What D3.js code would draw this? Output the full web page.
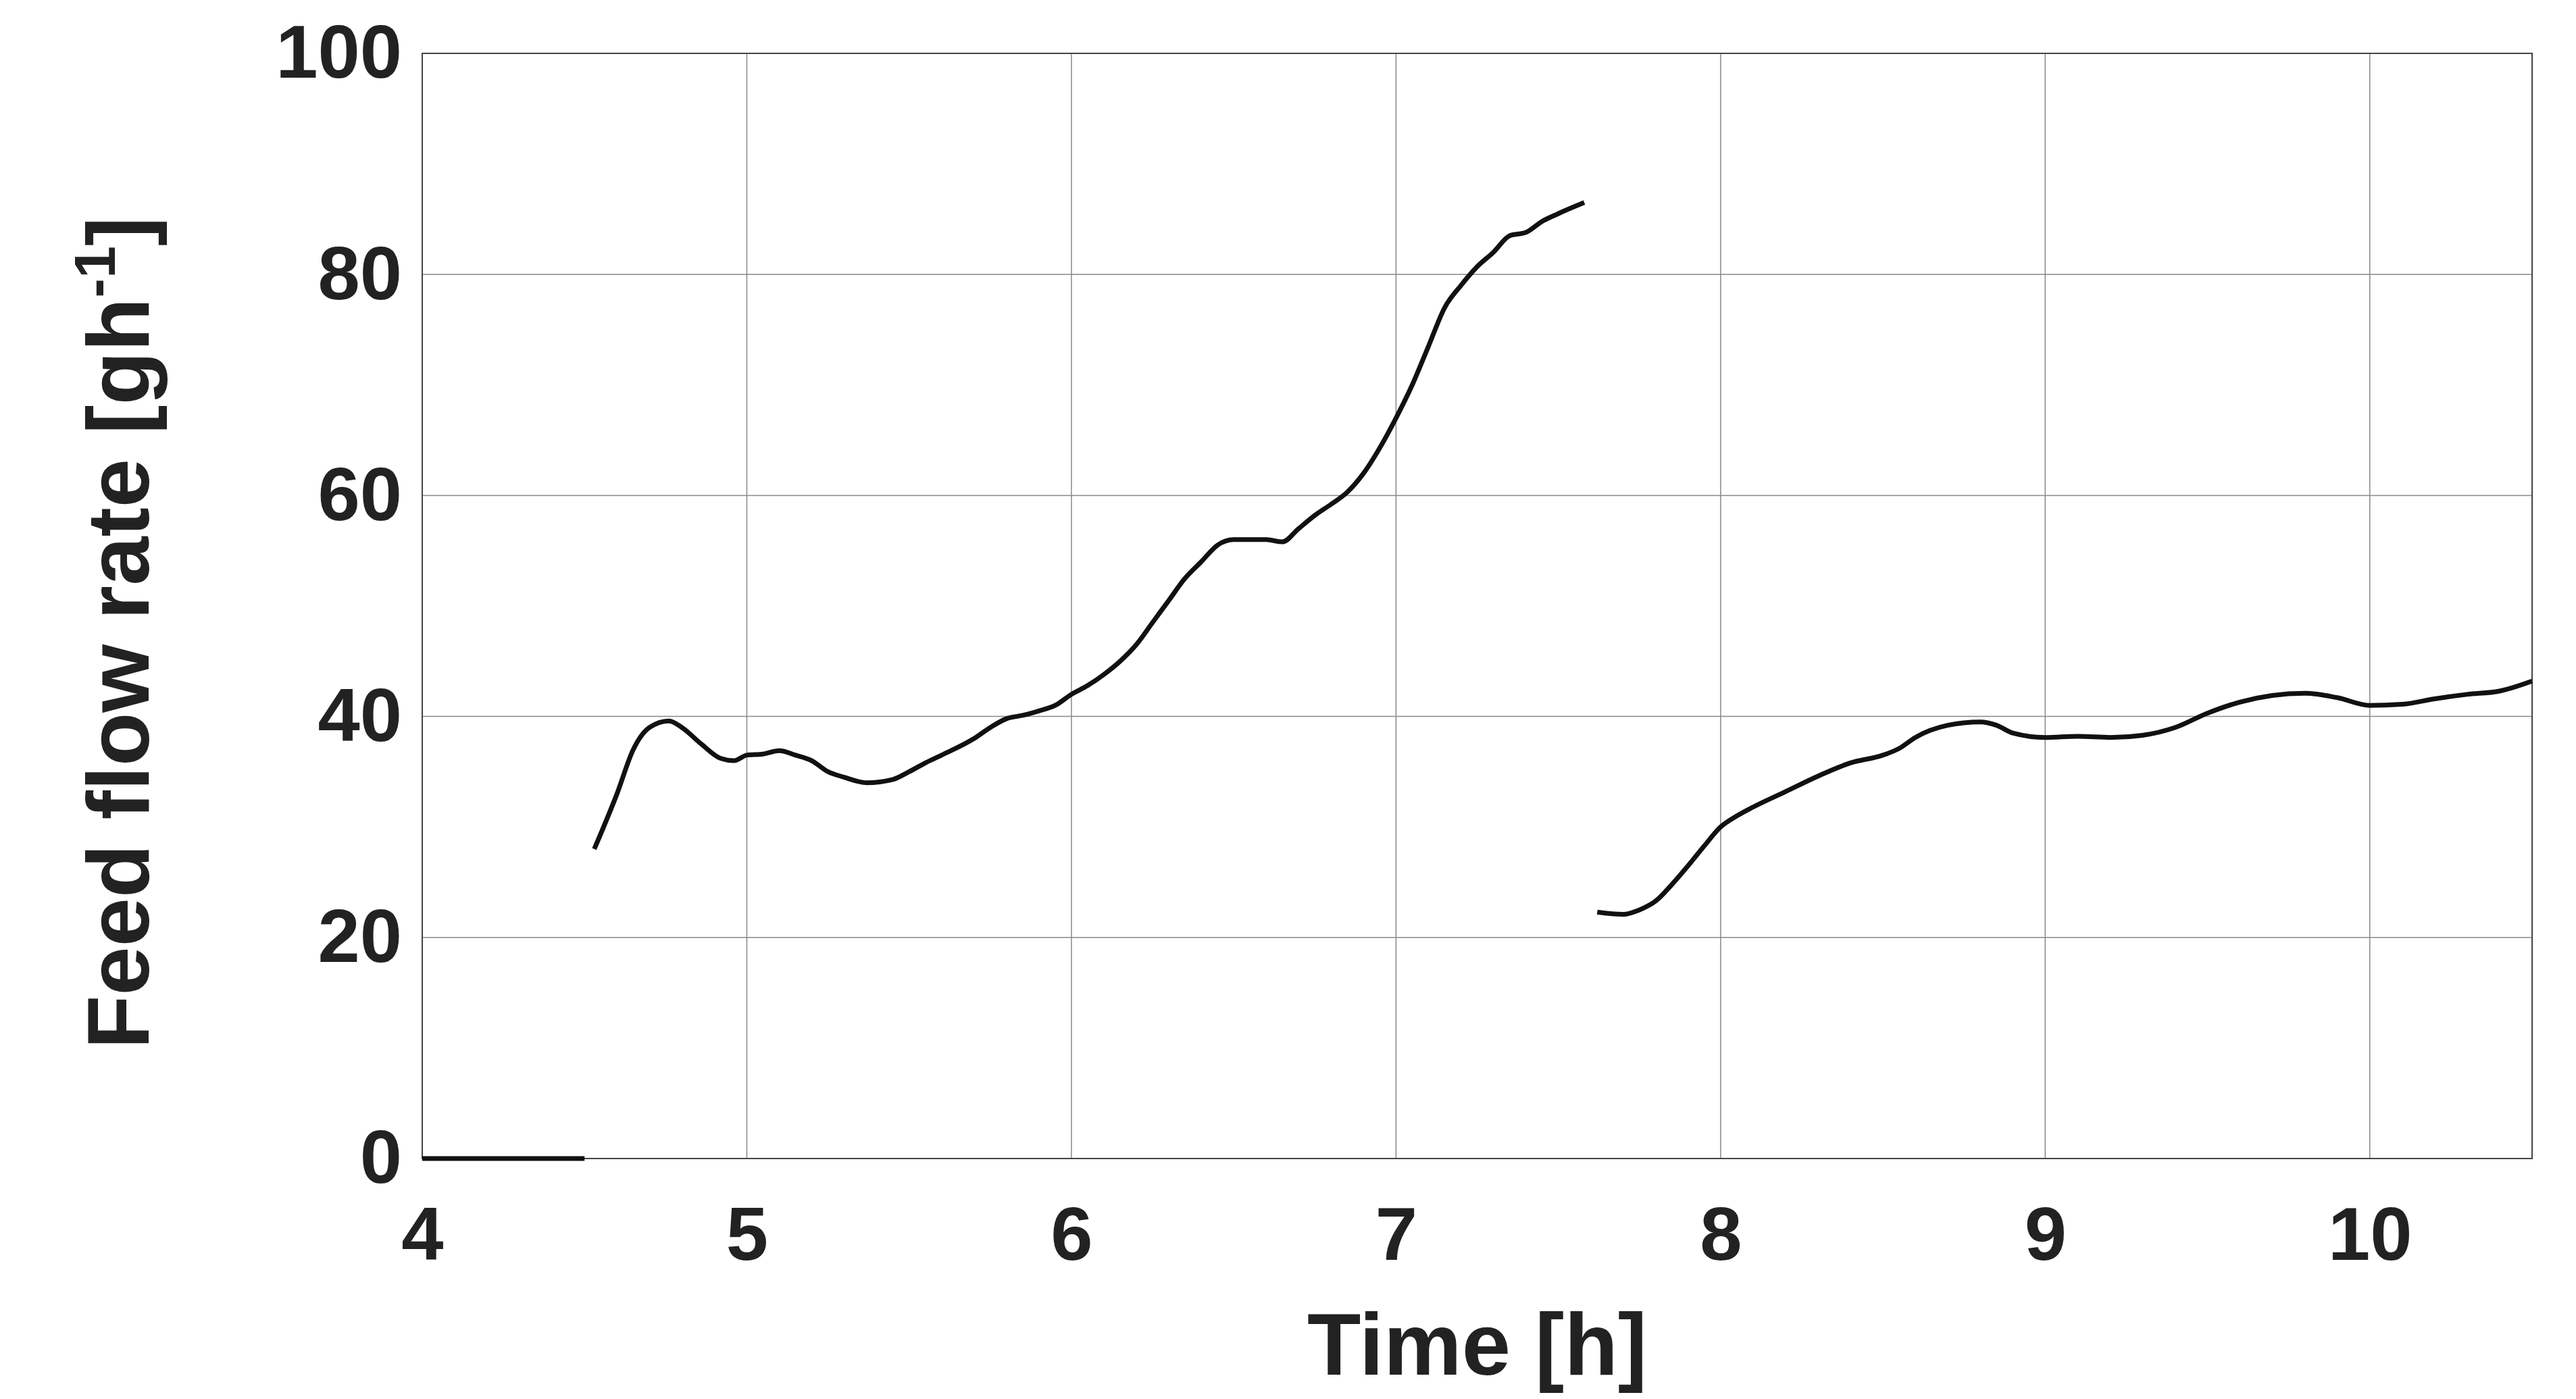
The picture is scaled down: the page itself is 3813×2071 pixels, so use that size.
<!DOCTYPE html>
<html><head><meta charset="utf-8">
<script src="https://cdn.jsdelivr.net/npm/d3@7"></script>
<style>
body{margin:0;background:#fff}
text{font-family:"Liberation Sans Narrow","Arial Narrow","Liberation Sans",sans-serif;font-weight:bold;fill:#222}
</style></head><body>
<script>
var width = 3813, height = 2071,
    margin = {top: 79, right: 65, bottom: 356, left: 625},
    iwidth = width - margin.left - margin.right,
    iheight = height - margin.top - margin.bottom;

// three separate pieces of the feed curve
var seg1X = [4, 4.5];
var seg1Y = [0, 0];
var seg2X = [4.53,4.6,4.65,4.7,4.76,4.8,4.86,4.92,4.96,5.0,5.05,5.1,5.15,5.2,5.25,5.3,5.37,5.45,5.5,5.55,5.6,5.7,5.75,5.8,5.85,5.9,5.95,6.0,6.05,6.1,6.15,6.2,6.25,6.3,6.35,6.4,6.45,6.5,6.55,6.6,6.65,6.7,6.75,6.8,6.85,6.9,6.95,7.0,7.05,7.1,7.15,7.2,7.25,7.3,7.35,7.4,7.45,7.5,7.58];
var seg2Y = [28,33,37,39,39.6,39,37.5,36.2,36,36.5,36.6,36.9,36.5,36,35,34.5,34,34.3,35,35.8,36.5,38,39,39.8,40.1,40.5,41,42,42.8,43.8,45,46.5,48.5,50.5,52.5,54,55.5,56,56,56,55.8,57,58.2,59.2,60.3,62,64.3,67,70,73.5,77,79,80.7,82,83.5,83.8,84.8,85.5,86.5];
var seg3X = [7.62,7.7,7.75,7.8,7.85,7.9,7.95,8.0,8.05,8.1,8.2,8.3,8.4,8.5,8.55,8.6,8.7,8.8,8.85,8.9,9.0,9.1,9.2,9.3,9.4,9.5,9.6,9.7,9.8,9.9,10.0,10.1,10.2,10.3,10.4,10.5];
var seg3Y = [22.3,22.1,22.5,23.3,24.8,26.5,28.3,30,31,31.8,33.2,34.6,35.8,36.5,37.1,38.1,39.2,39.5,39.2,38.5,38.1,38.2,38.1,38.3,39,40.3,41.3,41.9,42.1,41.7,41,41.1,41.6,42,42.3,43.2];
var xTicks = [4,5,6,7,8,9,10];
var yTicks = [0,20,40,60,80,100];

var xScale = d3.scaleLinear().domain([4, 10.5]).range([0, iwidth]);
var yScale = d3.scaleLinear().domain([0, 100]).range([iheight, 0]);

var svg = d3.select("body").append("svg")
    .attr("width", width).attr("height", height)
  .append("g")
    .attr("transform", "translate(" + margin.left + "," + margin.top + ")");

// grid
svg.append("g").selectAll("line").data(xTicks).enter().append("line")
    .attr("x1", d => xScale(d)).attr("x2", d => xScale(d))
    .attr("y1", 0).attr("y2", iheight)
    .attr("stroke", "#888").attr("stroke-width", 1.5);
svg.append("g").selectAll("line").data(yTicks).enter().append("line")
    .attr("x1", 0).attr("x2", iwidth)
    .attr("y1", d => yScale(d)).attr("y2", d => yScale(d))
    .attr("stroke", "#888").attr("stroke-width", 1.5);

svg.append("rect").attr("width", iwidth).attr("height", iheight)
    .attr("fill", "none").attr("stroke", "#444").attr("stroke-width", 2);

// axes
var xAx = svg.append("g").attr("transform", "translate(0," + iheight + ")")
    .call(d3.axisBottom(xScale).tickValues(xTicks).tickFormat(d3.format("d")).tickSize(0).tickPadding(70));
var yAx = svg.append("g")
    .call(d3.axisLeft(yScale).tickValues(yTicks).tickFormat(d3.format("d")).tickSize(0).tickPadding(30));
[xAx, yAx].forEach(function(a) {
    a.select(".domain").remove();
    a.selectAll("text").style("font-size", "112px")
        .style("font-family", "'Liberation Sans Narrow','Arial Narrow',sans-serif")
        .style("font-weight", "bold").attr("fill", "#222");
});

var line = d3.line().x(d => xScale(d[0])).y(d => yScale(d[1])).curve(d3.curveMonotoneX);
[[seg1X, seg1Y], [seg2X, seg2Y], [seg3X, seg3Y]].forEach(function(s) {
    svg.append("path")
        .datum(d3.zip(s[0], s[1]))
        .attr("d", line)
        .attr("fill", "none").attr("stroke", "#111").attr("stroke-width", 7)
        .attr("stroke-linejoin", "round");
});

svg.append("text")
    .attr("x", iwidth / 2).attr("y", iheight + 320)
    .attr("text-anchor", "middle").style("font-size", "130px")
    .text("Time [h]");

var yl = svg.append("text")
    .attr("transform", "translate(-405," + (iheight / 2 + 40) + ") rotate(-90)")
    .attr("text-anchor", "middle").style("font-size", "130px");
yl.append("tspan").text("Feed flow rate [gh");
yl.append("tspan").attr("dy", -50).style("font-size", "86px").text("-1");
yl.append("tspan").attr("dy", 50).text("]");
</script>
</body></html>
